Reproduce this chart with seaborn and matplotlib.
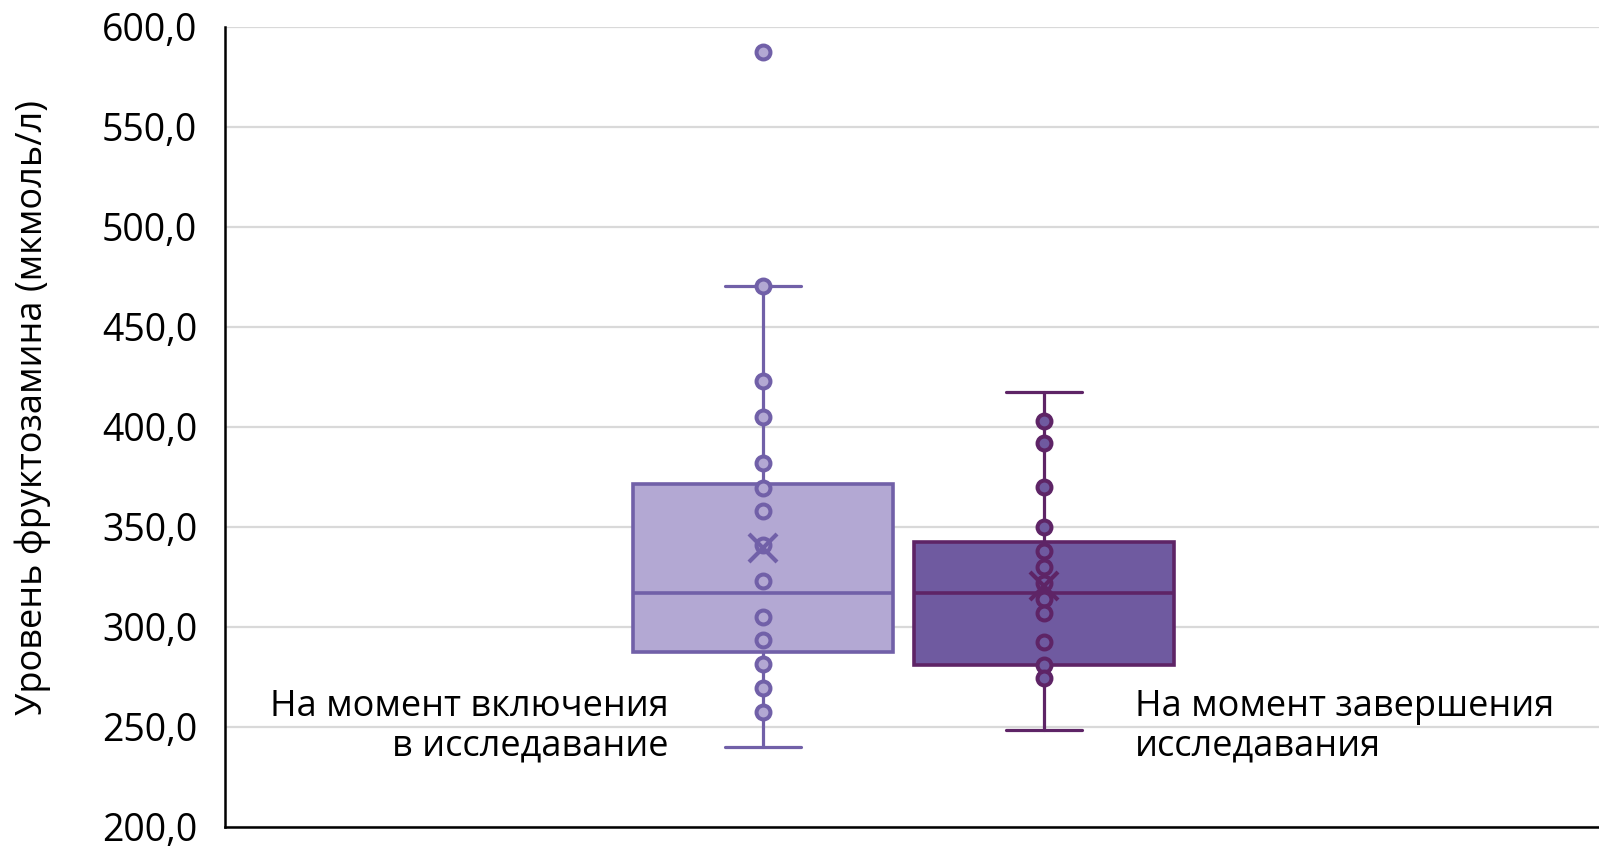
import pandas as pd
import seaborn as sns
import matplotlib
matplotlib.use("Agg")
import matplotlib.pyplot as plt

Группы = ["На момент включения\nв исследавание", "На момент завершения\nисследавания"]

ТочкиВключение = [587.7, 470.5, 423.2, 405.2, 381.8, 369.7, 358.2, 341.0,
                  323.0, 305.2, 293.5, 281.5, 269.7, 257.7]
ТочкиЗавершение = [403.2, 392.2, 369.8, 350.2, 338.0, 330.2, 321.8, 313.8,
                   306.8, 292.7, 281.0, 274.3]

Минимум = [239.8, 248.5]
Квартиль1 = [287.7, 281.0]
Медиана = [317.2, 317.2]
Квартиль3 = [371.5, 342.3]
Максимум = [470.5, 417.7]
Среднее = [339.3, 320.5]

ЦветЗаливки = ["#b3a8d3", "#6f5aa0"]
ЦветЛинии = ["#7160a8", "#5e2466"]

sns.set_theme(style="white")
plt.rcParams["font.family"] = ["Open Sans", "DejaVu Sans"]

fig = plt.figure(figsize=(15.99, 8.56), dpi=100)
ax = fig.add_axes([225 / 1599, 29 / 856, 1 - 225 / 1599, 800 / 856])

# ящики
for i in range(2):
    stats = [{
        "whislo": Минимум[i], "q1": Квартиль1[i], "med": Медиана[i],
        "q3": Квартиль3[i], "whishi": Максимум[i], "mean": Среднее[i],
        "fliers": [],
    }]
    c = ЦветЛинии[i]
    ax.bxp(stats, positions=[i], widths=0.925, capwidths=0.27, patch_artist=True,
           showmeans=True, showfliers=False,
           boxprops=dict(facecolor=ЦветЗаливки[i], edgecolor=c, linewidth=2.6),
           medianprops=dict(color=c, linewidth=2.6),
           whiskerprops=dict(color=c, linewidth=2.3),
           capprops=dict(color=c, linewidth=2.3),
           meanprops=dict(marker="x", markersize=20, markeredgecolor=c,
                          markeredgewidth=3, zorder=6))

# точки
ТочкиDf = pd.DataFrame({
    "группа": [Группы[0]] * len(ТочкиВключение) + [Группы[1]] * len(ТочкиЗавершение),
    "значение": ТочкиВключение + ТочкиЗавершение,
})
for i, g in enumerate(Группы):
    sns.stripplot(data=ТочкиDf[ТочкиDf["группа"] == g], x="группа", y="значение",
                  order=Группы, jitter=False, size=10, color=ЦветЗаливки[i],
                  edgecolor=ЦветЛинии[i], linewidth=2.9, zorder=5, ax=ax)

ax.set_xlim(-1.915, 2.975)
ax.set_ylim(200, 600)
ax.set_yticks(range(200, 601, 50))
ax.set_yticklabels([f"{v:.1f}".replace(".", ",") for v in range(200, 601, 50)], fontsize=27)
ax.set_xticks([])
ax.set_xlabel("")
ax.yaxis.grid(True, color="#d9d9d9", linewidth=1.6)
ax.set_axisbelow(True)
ax.tick_params(axis="y", length=0, pad=20, colors="black")

for s in ["top", "right"]:
    ax.spines[s].set_visible(False)
for s in ["left", "bottom"]:
    ax.spines[s].set_color("black")
    ax.spines[s].set_linewidth(1.8)

ax.set_ylabel("Уровень фруктозамина (мкмоль/л)", fontsize=26, color="black")
ax.yaxis.set_label_coords(-0.127, 0.524)

ax.text(0.3226, 0.125, Группы[0], transform=ax.transAxes, ha="right", va="center",
        fontsize=26, linespacing=1.12, color="black")
ax.text(0.6622, 0.125, Группы[1], transform=ax.transAxes, ha="left", va="center",
        fontsize=26, linespacing=1.12, color="black")

fig.savefig("out.png", dpi=100)
